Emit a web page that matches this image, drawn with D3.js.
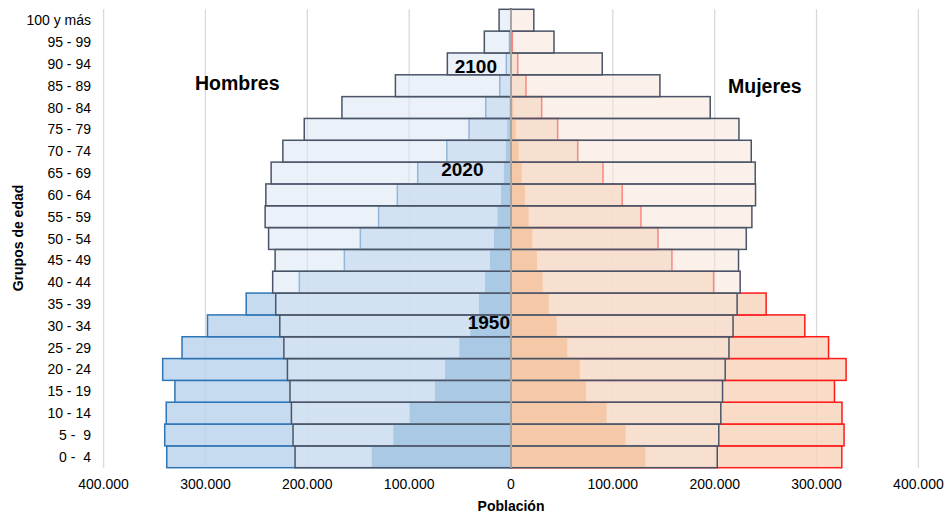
<!DOCTYPE html>
<html>
<head>
<meta charset="utf-8">
<script src="https://cdn.jsdelivr.net/npm/d3@7"></script>
<style>
  html, body { margin: 0; padding: 0; background: #fff; }
  svg { display: block; font-family: "Liberation Sans", Arial, sans-serif; }
</style>
</head>
<body>
<svg id="chart" width="950" height="514"></svg>
<script>
// ---- Data (bottom to top) ----
const ageGroups = ["0 -  4","5 -  9","10 - 14","15 - 19","20 - 24","25 - 29","30 - 34","35 - 39","40 - 44","45 - 49","50 - 54","55 - 59","60 - 64","65 - 69","70 - 74","75 - 79","80 - 84","85 - 89","90 - 94","95 - 99","100 y más"];

const male1950 = [136700,115500,99400,74600,64800,50700,40000,31400,25500,20600,16700,13200,9800,7000,5000,3600,1500,600,200,50,0];
const male2020 = [338000,340000,338500,330000,342000,323000,298000,260000,207800,163600,147900,130000,111600,91600,63000,41200,24800,11000,4600,1500,300];
const male2100 = [212000,214000,215600,217000,219500,223000,227000,231000,234000,231600,238000,241400,240700,235500,224000,203000,166000,113500,62500,26200,11700];

const female1950 = [132000,112500,93800,73500,67600,55300,44800,37000,31000,25500,20900,17300,13700,10500,7500,4600,2300,1000,400,100,0];
const female2020 = [324800,327000,325000,317600,329000,311800,288500,250500,198900,158000,144300,127600,109200,90300,65500,45800,30100,14700,6600,1300,200];
const female2100 = [202500,204000,206000,207700,210300,214000,218000,222000,225000,223400,231000,236500,240100,239800,235900,223800,195600,146200,89600,42200,22400];

const tickValues = [-400000,-300000,-200000,-100000,0,100000,200000,300000,400000];
const sexLabels = ["Hombres","Mujeres"];
const yearLabels = ["2100","2020","1950"];

// ---- Layout ----
const svg = d3.select("#chart");
const x = d3.scaleLinear().domain([-400000, 400000]).range([103.6, 918.4]);
const y = d3.scaleBand().domain(ageGroups.slice().reverse()).range([9.3, 467.7]).paddingInner(0).paddingOuter(0);

const fmt = v => v === 0 ? "0" : d3.format(",")(Math.abs(v)).replace(/,/g, ".");

// gridlines
svg.append("g").selectAll("line").data(tickValues.filter(d => d !== 0)).join("line")
  .attr("x1", d => x(d)).attr("x2", d => x(d))
  .attr("y1", 9.3).attr("y2", 467.7)
  .attr("stroke", "#d9d9d9").attr("stroke-width", 1.3);

function drawSeries(values, side, cls, fill, stroke, opacity, sw) {
  const g = svg.append("g").attr("class", cls);
  g.selectAll("rect").data(values.map((v, i) => ({v, age: ageGroups[i]}))).join("rect")
    .attr("x", d => side < 0 ? x(-d.v) : x(0))
    .attr("width", d => Math.abs(x(d.v) - x(0)))
    .attr("y", d => y(d.age))
    .attr("height", y.bandwidth())
    .attr("fill", fill)
    .attr("fill-opacity", opacity)
    .attr("stroke", stroke)
    .attr("stroke-width", sw);
}

// Male
drawSeries(male2020, -1, "m2020", "#b9d3ec", "#2e75b6", 0.82, 1.5);
drawSeries(male1950, -1, "m1950", "#64a0cd", "none", 1, 0);
drawSeries(male2100, -1, "m2100", "#dbe7f5", "#4a5568", 0.58, 1.5);
// Female
drawSeries(female2020, 1, "f2020", "#f7d4bb", "#ff1a1a", 0.82, 1.5);
drawSeries(female1950, 1, "f1950", "#f2a870", "none", 1, 0);
drawSeries(female2100, 1, "f2100", "#f8e3d8", "#4a5568", 0.54, 1.5);

// center axis line
svg.append("line")
  .attr("x1", x(0)).attr("x2", x(0)).attr("y1", 9.3).attr("y2", 467.7)
  .attr("stroke", "#a6a6a6").attr("stroke-width", 2);

// y axis labels
svg.append("g").selectAll("text").data(ageGroups).join("text")
  .attr("x", 91).attr("y", d => y(d) + y.bandwidth() / 2)
  .attr("text-anchor", "end").attr("dominant-baseline", "central")
  .attr("font-size", 14).attr("fill", "#000")
  .style("white-space", "pre")
  .text(d => d);

// x tick labels
svg.append("g").selectAll("text").data(tickValues).join("text")
  .attr("x", d => x(d)).attr("y", 489.3)
  .attr("text-anchor", "middle").attr("font-size", 14).attr("fill", "#000")
  .text(d => fmt(d));

// axis titles
svg.append("text").attr("x", x(0)).attr("y", 511)
  .attr("text-anchor", "middle").attr("font-size", 14).attr("font-weight", "bold")
  .text("Población");
svg.append("text").attr("transform", "translate(22.5,238) rotate(-90)")
  .attr("text-anchor", "middle").attr("font-size", 14).attr("font-weight", "bold")
  .text("Grupos de edad");

// sex labels
svg.append("text").attr("x", 195).attr("y", 90).attr("font-size", 19.5).attr("font-weight", "bold").text(sexLabels[0]);
svg.append("text").attr("x", 728).attr("y", 92.5).attr("font-size", 19.5).attr("font-weight", "bold").text(sexLabels[1]);

// year labels
const yearPos = [
  {t: yearLabels[0], x: 497, y: 73.3},
  {t: yearLabels[1], x: 483.5, y: 176},
  {t: yearLabels[2], x: 510, y: 329.3}
];
svg.append("g").selectAll("text").data(yearPos).join("text")
  .attr("x", d => d.x).attr("y", d => d.y)
  .attr("text-anchor", "end").attr("font-size", 19).attr("font-weight", "bold")
  .text(d => d.t);
</script>
</body>
</html>
